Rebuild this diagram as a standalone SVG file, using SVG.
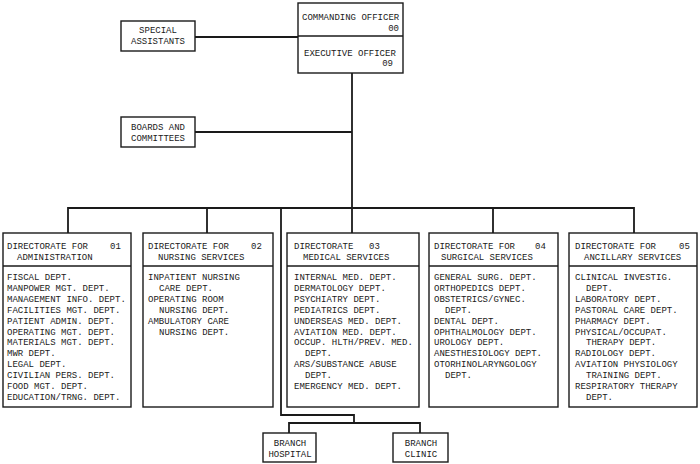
<svg xmlns="http://www.w3.org/2000/svg" width="700" height="464" viewBox="0 0 700 464">
<style>
.box{fill:#fff;stroke:#1a1a1a;stroke-width:1.4}
.ln{fill:none;stroke:#1a1a1a;stroke-width:1.8}
text{font-family:"Liberation Mono","DejaVu Sans Mono",monospace;font-size:9px;fill:#1a1a1a}
.c{text-anchor:middle}
.e{text-anchor:end}
</style>
<rect width="700" height="464" fill="#fff"/>
<g id="connectors">
<path class="ln" d="M195 37H298"/>
<path class="ln" d="M352 73V208"/>
<path class="ln" d="M195 132H352"/>
<path class="ln" d="M68 233V208H634V233"/>
<path class="ln" d="M207 208V233"/>
<path class="ln" d="M352 208V233"/>
<path class="ln" d="M493 208V233"/>
<path class="ln" d="M281 208V415H354V423"/>
<path class="ln" d="M289 433V423H420V433"/>
</g>
<g id="co">
<rect class="box" x="298" y="3" width="105" height="70"/>
<line class="ln" x1="298" y1="36" x2="403" y2="36" style="stroke-width:1.4"/>
<text x="302" y="20">COMMANDING OFFICER</text>
<text class="e" x="399" y="31">00</text>
<text x="304" y="56">EXECUTIVE OFFICER</text>
<text class="e" x="393" y="66">09</text>
</g>
<g id="special">
<rect class="box" x="121" y="21" width="74" height="30"/>
<text class="c" x="158" y="33">SPECIAL</text>
<text class="c" x="158" y="44">ASSISTANTS</text>
</g>
<g id="boards">
<rect class="box" x="121" y="117" width="74" height="30"/>
<text x="131" y="130">BOARDS AND</text>
<text x="131" y="141">COMMITTEES</text>
</g>
<g id="dir01">
<rect class="box" x="3" y="233" width="128" height="174"/>
<line class="box" x1="3" y1="266" x2="131" y2="266"/>
<text x="7" y="248.5">DIRECTORATE FOR</text>
<text x="110" y="248.5">01</text>
<text x="17" y="259.5">ADMINISTRATION</text>
<text x="7" y="280">FISCAL DEPT.</text>
<text x="7" y="290.9">MANPOWER MGT. DEPT.</text>
<text x="7" y="301.8">MANAGEMENT INFO. DEPT.</text>
<text x="7" y="312.7">FACILITIES MGT. DEPT.</text>
<text x="7" y="323.6">PATIENT ADMIN. DEPT.</text>
<text x="7" y="334.5">OPERATING MGT. DEPT.</text>
<text x="7" y="345.4">MATERIALS MGT. DEPT.</text>
<text x="7" y="356.3">MWR DEPT.</text>
<text x="7" y="367.2">LEGAL DEPT.</text>
<text x="7" y="378.1">CIVILIAN PERS. DEPT.</text>
<text x="7" y="389">FOOD MGT. DEPT.</text>
<text x="7" y="399.9">EDUCATION/TRNG. DEPT.</text>
</g>
<g id="dir02">
<rect class="box" x="143" y="233" width="130" height="174"/>
<line class="box" x1="143" y1="266" x2="273" y2="266"/>
<text x="148" y="248.5">DIRECTORATE FOR</text>
<text x="251" y="248.5">02</text>
<text x="158" y="259.5">NURSING SERVICES</text>
<text x="148" y="280">INPATIENT NURSING</text>
<text x="159" y="290.9">CARE DEPT.</text>
<text x="148" y="301.8">OPERATING ROOM</text>
<text x="159" y="312.7">NURSING DEPT.</text>
<text x="148" y="323.6">AMBULATORY CARE</text>
<text x="159" y="334.5">NURSING DEPT.</text>
</g>
<g id="dir03">
<rect class="box" x="287" y="233" width="132" height="174"/>
<line class="box" x1="287" y1="266" x2="419" y2="266"/>
<text x="294" y="248.5">DIRECTORATE</text>
<text x="369" y="248.5">03</text>
<text x="303" y="259.5">MEDICAL SERVICES</text>
<text x="294" y="280">INTERNAL MED. DEPT.</text>
<text x="294" y="290.9">DERMATOLOGY DEPT.</text>
<text x="294" y="301.8">PSYCHIATRY DEPT.</text>
<text x="294" y="312.7">PEDIATRICS DEPT.</text>
<text x="294" y="323.6">UNDERSEAS MED. DEPT.</text>
<text x="294" y="334.5">AVIATION MED. DEPT.</text>
<text x="294" y="345.4">OCCUP. HLTH/PREV. MED.</text>
<text x="305" y="356.3">DEPT.</text>
<text x="294" y="367.2">ARS/SUBSTANCE ABUSE</text>
<text x="305" y="378.1">DEPT.</text>
<text x="294" y="389">EMERGENCY MED. DEPT.</text>
</g>
<g id="dir04">
<rect class="box" x="429" y="233" width="129" height="174"/>
<line class="box" x1="429" y1="266" x2="558" y2="266"/>
<text x="434" y="248.5">DIRECTORATE FOR</text>
<text x="535" y="248.5">04</text>
<text x="441" y="259.5">SURGICAL SERVICES</text>
<text x="434" y="280">GENERAL SURG. DEPT.</text>
<text x="434" y="290.9">ORTHOPEDICS DEPT.</text>
<text x="434" y="301.8">OBSTETRICS/GYNEC.</text>
<text x="445" y="312.7">DEPT.</text>
<text x="434" y="323.6">DENTAL DEPT.</text>
<text x="434" y="334.5">OPHTHALMOLOGY DEPT.</text>
<text x="434" y="345.4">UROLOGY DEPT.</text>
<text x="434" y="356.3">ANESTHESIOLOGY DEPT.</text>
<text x="434" y="367.2">OTORHINOLARYNGOLOGY</text>
<text x="445" y="378.1">DEPT.</text>
</g>
<g id="dir05">
<rect class="box" x="569" y="233" width="128" height="174"/>
<line class="box" x1="569" y1="266" x2="697" y2="266"/>
<text x="575" y="248.5">DIRECTORATE FOR</text>
<text x="679" y="248.5">05</text>
<text x="584" y="259.5">ANCILLARY SERVICES</text>
<text x="575" y="280">CLINICAL INVESTIG.</text>
<text x="586" y="290.9">DEPT.</text>
<text x="575" y="301.8">LABORATORY DEPT.</text>
<text x="575" y="312.7">PASTORAL CARE DEPT.</text>
<text x="575" y="323.6">PHARMACY DEPT.</text>
<text x="575" y="334.5">PHYSICAL/OCCUPAT.</text>
<text x="586" y="345.4">THERAPY DEPT.</text>
<text x="575" y="356.3">RADIOLOGY DEPT.</text>
<text x="575" y="367.2">AVIATION PHYSIOLOGY</text>
<text x="586" y="378.1">TRAINING DEPT.</text>
<text x="575" y="389">RESPIRATORY THERAPY</text>
<text x="586" y="399.9">DEPT.</text>
</g>
<g id="hospital">
<rect class="box" x="263" y="433" width="53" height="29"/>
<text class="c" x="290" y="446">BRANCH</text>
<text class="c" x="290" y="457">HOSPITAL</text>
</g>
<g id="clinic">
<rect class="box" x="393" y="433" width="55" height="29"/>
<text class="c" x="421" y="446">BRANCH</text>
<text class="c" x="421" y="457">CLINIC</text>
</g>
</svg>
